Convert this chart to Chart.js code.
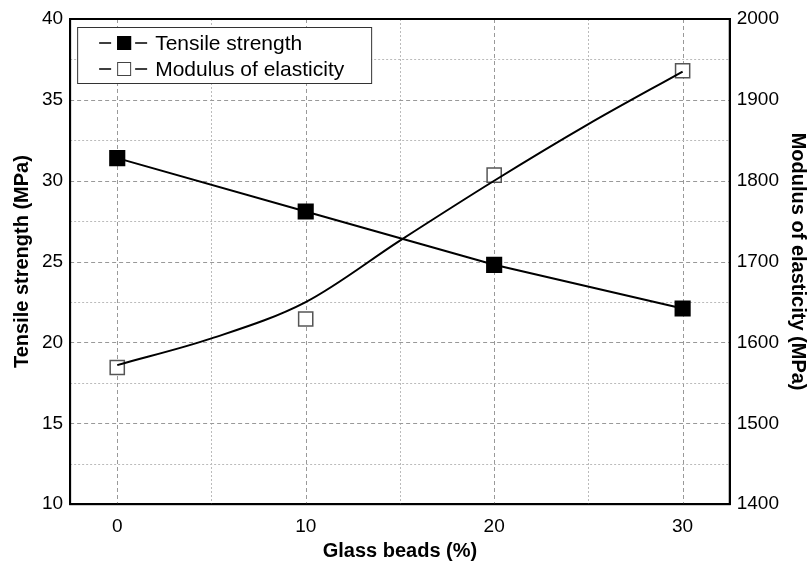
<!DOCTYPE html>
<html>
<head>
<meta charset="utf-8">
<script src="https://cdn.jsdelivr.net/npm/chart.js@4"></script>
<style>
  html, body { margin: 0; padding: 0; background: #fff; }
  #wrap { width: 810px; height: 566px; }
</style>
</head>
<body>
<div id="wrap"><canvas id="chart"></canvas></div>
<script>
const glass_beads = [0, 10, 20, 30];
const tensile_strength = [31.4, 28.1, 24.8, 22.1];
const modulus = [1569, 1629, 1807, 1936];
// fitted trend line for the modulus
const modulus_fit_x = [0, 5, 10, 15, 20, 25, 30];
const modulus_fit_y = [1572, 1605, 1650, 1726, 1800, 1870, 1935];

const left_ticks = [10, 15, 20, 25, 30, 35, 40];
const right_ticks = [1400, 1500, 1600, 1700, 1800, 1900, 2000];
const x_ticks = [0, 10, 20, 30];

const FONT = "'Liberation Sans', Arial, sans-serif";

function pts(xs, ys) {
  return xs.map((x, i) => ({x: x, y: ys[i]}));
}

// dashed major / dotted minor grid, drawn from the scales
const gridPlugin = {
  id: "dashgrid",
  beforeDatasetsDraw(chart) {
    const {ctx, chartArea: a, scales} = chart;
    ctx.save();
    ctx.lineWidth = 1;
    scales.x.ticks.forEach(t => {
      const major = t.value % 10 === 0;
      const px = Math.round(scales.x.getPixelForValue(t.value)) + 0.5;
      ctx.strokeStyle = major ? "#999" : "#bbb";
      ctx.setLineDash(major ? [4, 3] : [2, 2]);
      ctx.beginPath();
      ctx.moveTo(px, a.top);
      ctx.lineTo(px, a.bottom);
      ctx.stroke();
    });
    scales.y.ticks.forEach(t => {
      if (t.value <= 10 || t.value >= 40) return;
      const major = t.value % 5 === 0;
      const py = Math.round(scales.y.getPixelForValue(t.value)) + 0.5;
      ctx.strokeStyle = major ? "#999" : "#bbb";
      ctx.setLineDash(major ? [4, 3] : [2, 2]);
      ctx.beginPath();
      ctx.moveTo(a.left, py);
      ctx.lineTo(a.right, py);
      ctx.stroke();
    });
    ctx.restore();
  }
};

// frame round the plot area + legend box in the top left corner
const framePlugin = {
  id: "frame",
  afterDraw(chart) {
    const {ctx, chartArea: a} = chart;
    ctx.save();
    ctx.strokeStyle = "#000";
    ctx.lineWidth = 2;
    ctx.strokeRect(a.left, a.top, a.right - a.left, a.bottom - a.top);

    // legend
    const bx = a.left + 7, by = a.top + 8, bw = 294, bh = 56;
    ctx.fillStyle = "#fff";
    ctx.fillRect(bx, by, bw, bh);
    ctx.lineWidth = 1;
    ctx.strokeStyle = "#333";
    ctx.strokeRect(bx + 0.5, by + 0.5, bw, bh);
    const items = [
      {label: "Tensile strength", fill: "#000", stroke: "#000"},
      {label: "Modulus of elasticity", fill: "#fff", stroke: "#444"}
    ];
    items.forEach((it, i) => {
      const cy = by + 16 + i * 26;
      const x0 = bx + 22;
      ctx.strokeStyle = "#000";
      ctx.lineWidth = 1.5;
      ctx.beginPath();
      ctx.moveTo(x0, cy); ctx.lineTo(x0 + 12, cy);
      ctx.moveTo(x0 + 36, cy); ctx.lineTo(x0 + 48, cy);
      ctx.stroke();
      ctx.fillStyle = it.fill;
      ctx.fillRect(x0 + 18, cy - 7, 14, 14);
      ctx.strokeStyle = it.stroke;
      ctx.lineWidth = 1;
      ctx.strokeRect(x0 + 18.5, cy - 6.5, 13, 13);
      ctx.fillStyle = "#000";
      ctx.font = "21px " + FONT;
      ctx.textBaseline = "middle";
      ctx.fillText(it.label, x0 + 56, cy + 1);
    });
    ctx.restore();
  }
};

new Chart(document.getElementById("chart"), {
  type: "line",
  data: {
    datasets: [
      {
        label: "Tensile strength",
        data: pts(glass_beads, tensile_strength),
        yAxisID: "y",
        borderColor: "#000",
        borderWidth: 2,
        backgroundColor: "#000",
        pointStyle: "rect",
        pointRadius: 10,
        pointBorderColor: "#000",
        pointBackgroundColor: "#000",
        tension: 0
      },
      {
        label: "Modulus fit",
        data: pts(modulus_fit_x, modulus_fit_y),
        yAxisID: "y1",
        borderColor: "#000",
        borderWidth: 2,
        pointRadius: 0,
        cubicInterpolationMode: "monotone"
      },
      {
        label: "Modulus of elasticity",
        data: pts(glass_beads, modulus),
        yAxisID: "y1",
        showLine: false,
        pointStyle: "rect",
        pointRadius: 10,
        pointBorderWidth: 1.5,
        pointBorderColor: "#555",
        pointBackgroundColor: "#fff"
      }
    ]
  },
  options: {
    responsive: true,
    maintainAspectRatio: false,
    animation: false,
    layout: {
      padding: {top: 19, right: 0, bottom: 3, left: 10}
    },
    plugins: {
      legend: {display: false},
      tooltip: {enabled: false}
    },
    scales: {
      x: {
        type: "linear",
        min: -2.5,
        max: 32.5,
        afterBuildTicks(scale) {
          scale.ticks = [0, 5, 10, 15, 20, 25, 30].map(v => ({value: v}));
        },
        ticks: {
          color: "#000",
          font: {family: FONT, size: 19},
          padding: 11,
          autoSkip: false,
          maxRotation: 0,
          callback: v => x_ticks.includes(v) ? String(v) : ""
        },
        grid: {display: false, drawTicks: false},
        border: {display: true, color: "#000", width: 2},
        title: {
          display: true,
          text: "Glass beads (%)",
          color: "#000",
          font: {family: FONT, size: 20, weight: "bold"},
          padding: {top: -10, bottom: 0}
        }
      },
      y: {
        position: "left",
        min: 10,
        max: 40,
        afterBuildTicks(scale) {
          const t = [];
          for (let v = 10; v <= 40; v += 2.5) t.push({value: v});
          scale.ticks = t;
        },
        ticks: {
          color: "#000",
          font: {family: FONT, size: 19},
          padding: 7,
          autoSkip: false,
          callback: v => left_ticks.includes(v) ? String(v) : ""
        },
        grid: {display: false, drawTicks: false},
        border: {color: "#000", width: 2},
        title: {
          display: true,
          text: "Tensile strength (MPa)",
          color: "#000",
          font: {family: FONT, size: 20, weight: "bold"},
          padding: {top: 0, bottom: 1}
        }
      },
      y1: {
        position: "right",
        min: 1400,
        max: 2000,
        afterBuildTicks(scale) {
          scale.ticks = right_ticks.map(v => ({value: v}));
        },
        ticks: {
          color: "#000",
          font: {family: FONT, size: 19},
          padding: 7,
          autoSkip: false,
          callback: v => String(v)
        },
        grid: {display: false, drawTicks: false},
        border: {color: "#000", width: 2},
        title: {
          display: true,
          text: "Modulus of elasticity (MPa)",
          color: "#000",
          font: {family: FONT, size: 20, weight: "bold"},
          padding: {top: 0, bottom: 0}
        }
      }
    }
  },
  plugins: [gridPlugin, framePlugin]
});
</script>
</body>
</html>
